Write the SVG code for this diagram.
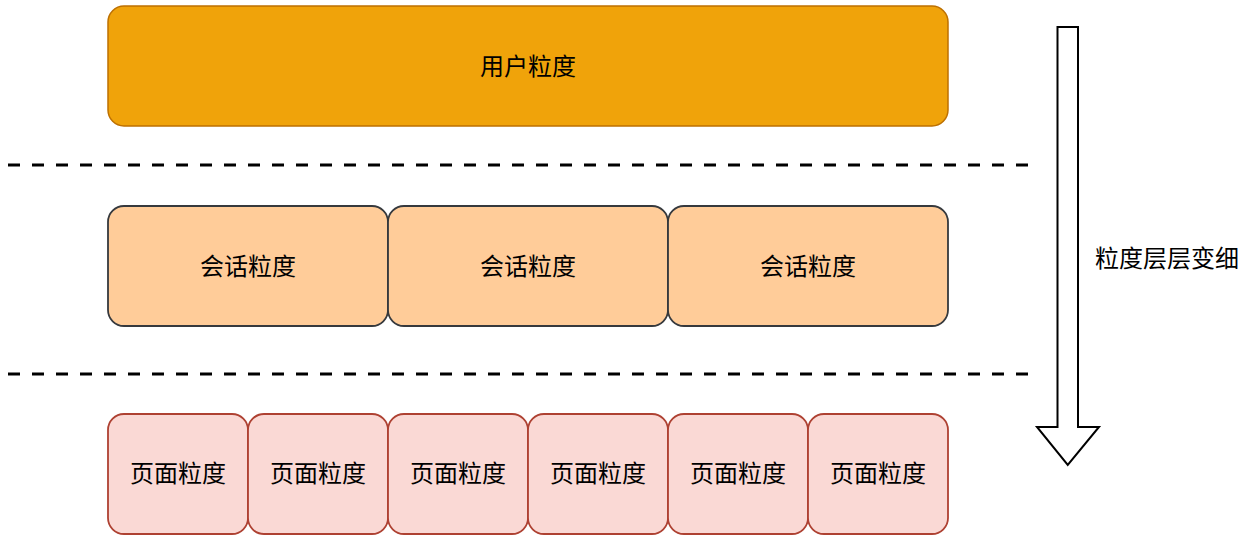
<svg xmlns="http://www.w3.org/2000/svg" width="1246" height="536" viewBox="0 0 1246 536">
<style>
.t{font-family:"Noto Sans CJK SC","Liberation Sans",sans-serif;font-size:24px;fill:#000;text-anchor:middle;dominant-baseline:central}
.user{fill:#f0a30a;stroke:#bd7000;stroke-width:1.5}
.sess{fill:#ffcc99;stroke:#36393d;stroke-width:1.8}
.page{fill:#fad9d5;stroke:#ae4132;stroke-width:1.8}
.dash{stroke:#000;stroke-width:3;stroke-dasharray:12 12;fill:none}
</style>
<rect width="1246" height="536" fill="#fff"/>
<g id="user">
<rect class="user" x="108" y="6" width="840" height="120" rx="16"/>
<text class="t" x="528" y="64">用户粒度</text>
</g>
<g id="session1"><rect class="sess" x="108" y="206" width="280" height="120" rx="16"/><text class="t" x="248" y="264">会话粒度</text></g>
<g id="session2"><rect class="sess" x="388" y="206" width="280" height="120" rx="16"/><text class="t" x="528" y="264">会话粒度</text></g>
<g id="session3"><rect class="sess" x="668" y="206" width="280" height="120" rx="16"/><text class="t" x="808" y="264">会话粒度</text></g>
<g id="page1"><rect class="page" x="108" y="414" width="140" height="120" rx="16"/><text class="t" x="178" y="471">页面粒度</text></g>
<g id="page2"><rect class="page" x="248" y="414" width="140" height="120" rx="16"/><text class="t" x="318" y="471">页面粒度</text></g>
<g id="page3"><rect class="page" x="388" y="414" width="140" height="120" rx="16"/><text class="t" x="458" y="471">页面粒度</text></g>
<g id="page4"><rect class="page" x="528" y="414" width="140" height="120" rx="16"/><text class="t" x="598" y="471">页面粒度</text></g>
<g id="page5"><rect class="page" x="668" y="414" width="140" height="120" rx="16"/><text class="t" x="738" y="471">页面粒度</text></g>
<g id="page6"><rect class="page" x="808" y="414" width="140" height="120" rx="16"/><text class="t" x="878" y="471">页面粒度</text></g>
<g id="connectors">
<line class="dash" x1="8" y1="165" x2="1030" y2="165"/>
<line class="dash" x1="8" y1="374" x2="1030" y2="374"/>
<path d="M1057.5 27 H1078 V427 H1099 L1067.75 465 L1037 427 H1057.5 Z" fill="#fff" stroke="#000" stroke-width="2"/>
</g>
<g id="label">
<text class="t" x="1167" y="256">粒度层层变细</text>
</g>
</svg>
